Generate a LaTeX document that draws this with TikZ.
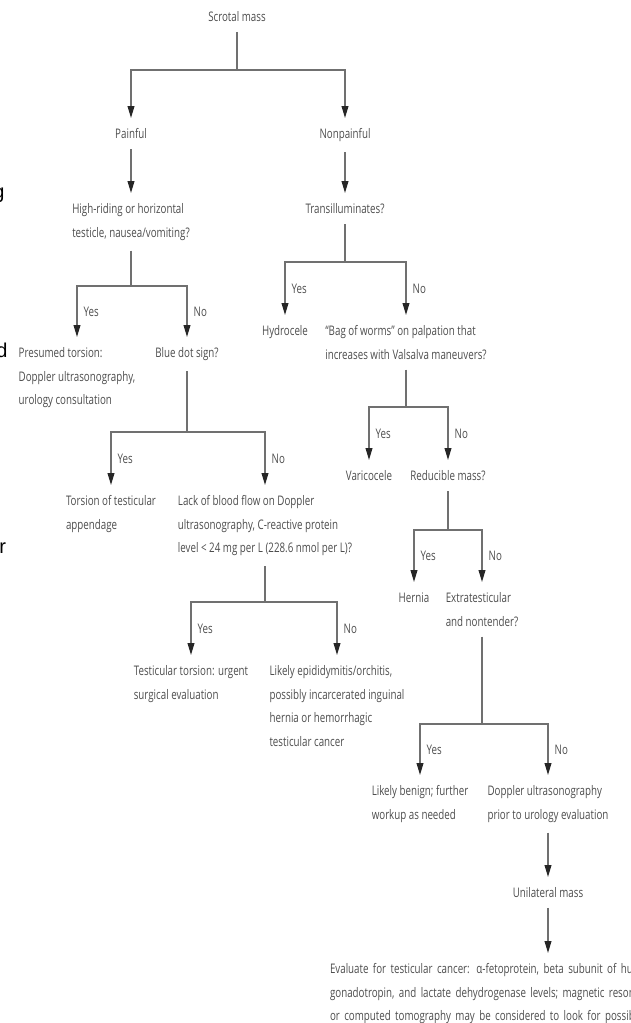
\documentclass[tikz,border=0pt]{standalone}
\usepackage{fontspec}
\setmainfont{Open Sans}[FakeStretch=0.74]
\newfontfamily\cutfont{Liberation Sans}
\usetikzlibrary{arrows.meta}
\definecolor{txtgray}{HTML}{4D4D4D}
\definecolor{linegray}{HTML}{707070}

\begin{document}
\begin{tikzpicture}[x=0.5pt,y=-0.5pt,
  box/.style={anchor=north,align=left,inner xsep=0pt,inner ysep=5pt,text=txtgray,font=\fontsize{6.6pt}{11.8pt}\selectfont},
  ln/.style={draw=linegray,line width=0.65pt},
  arr/.style={ln,-{Triangle[length=6pt,width=3.4pt,color=black!85]}},
  lbl/.style={pos=0.75,anchor=west,inner sep=0pt,xshift=3pt,text=txtgray,font=\fontsize{6.6pt}{8pt}\selectfont},
  cut/.style={anchor=base east,inner sep=0pt,font=\cutfont\fontsize{10pt}{12pt}\selectfont}]
  \useasboundingbox (0,0) rectangle (631,1023);
  \clip (0,0) rectangle (631,1023);

  % letters of the next page, cut at the margin
  \node[cut] (cutg) at (5,198) {g};
  \node[cut] (cutd) at (8,357) {d};
  \node[cut,anchor=base west] (cutr) at (-1,553) {r};

  % questions and outcomes
  \node[box] (scrotal) at (237,1) {Scrotal mass};
  \node[box] (painful) at (131,118) {Painful};
  \node[box] (nonpain) at (345,118) {Nonpainful};
  \node[box] (highriding) at (131,193) {High-riding or horizontal\\testicle, nausea/vomiting?};
  \node[box] (transil) at (345,193) {Transilluminates?};
  \node[box] (presumed) at (77,337) {Presumed torsion:\\Doppler ultrasonography,\\urology consultation};
  \node[box] (bluedot) at (187,337) {Blue dot sign?};
  \node[box] (hydrocele) at (285,315) {Hydrocele};
  \node[box] (bag) at (406,315) {“Bag of worms” on palpation that\\increases with Valsalva maneuvers?};
  \node[box] (torsapp) at (111,485) {Torsion of testicular\\appendage};
  \node[box] (lack) at (265,485) {Lack of blood flow on Doppler\\ultrasonography, C-reactive protein\\level < 24 mg per L (228.6 nmol per L)?};
  \node[box] (varicocele) at (369,460) {Varicocele};
  \node[box] (reducible) at (448,460) {Reducible mass?};
  \node[box] (hernia) at (414,582) {Hernia};
  \node[box] (extrat) at (482,582) {Extratesticular\\and nontender?};
  \node[box] (testtors) at (191,655) {Testicular torsion: urgent\\surgical evaluation};
  \node[box] (likelyepid) at (337,655) {Likely epididymitis/orchitis,\\possibly incarcerated inguinal\\hernia or hemorrhagic\\testicular cancer};
  \node[box] (benign) at (420,775) {Likely benign; further\\workup as needed};
  \node[box] (doppler) at (548,775) {Doppler ultrasonography\\prior to urology evaluation};
  \node[box] (unilat) at (548,877) {Unilateral mass};
  \node[box,text width=218pt] (evaluate) at (548,953) {Evaluate for testicular cancer: α-fetoprotein, beta subunit of human chorionic\\gonadotropin, and lactate dehydrogenase levels; magnetic resonance imaging\\or computed tomography may be considered to look for possible metastases};

  % branch points
  \coordinate (j1) at (237,70);
  \coordinate (j2) at (131,286);
  \coordinate (j3) at (345,262);
  \coordinate (j4) at (187,432);
  \coordinate (j5) at (406,407);
  \coordinate (j6) at (448,530);
  \coordinate (j7) at (265,602);
  \coordinate (j8) at (482,724);

  \draw[ln] (scrotal.south) -- (j1);
  \draw[arr] (j1) -| (painful.north);
  \draw[arr] (j1) -| (nonpain.north);
  \draw[arr] (painful.south) -- (highriding.north);
  \draw[arr] (nonpain.south) -- (transil.north);

  \draw[ln] (highriding.south) -- (j2);
  \draw[arr] (j2) -| node[lbl] (yes2) {Yes} (presumed.north);
  \draw[arr] (j2) -| node[lbl] (no2) {No} (bluedot.north);

  \draw[ln] (transil.south) -- (j3);
  \draw[arr] (j3) -| node[lbl] (yes3) {Yes} (hydrocele.north);
  \draw[arr] (j3) -| node[lbl] (no3) {No} (bag.north);

  \draw[ln] (bluedot.south) -- (j4);
  \draw[arr] (j4) -| node[lbl] (yes4) {Yes} (torsapp.north);
  \draw[arr] (j4) -| node[lbl] (no4) {No} (lack.north);

  \draw[ln] (bag.south) -- (j5);
  \draw[arr] (j5) -| node[lbl] (yes5) {Yes} (varicocele.north);
  \draw[arr] (j5) -| node[lbl] (no5) {No} (reducible.north);

  \draw[ln] (reducible.south) -- (j6);
  \draw[arr] (j6) -| node[lbl] (yes6) {Yes} (hernia.north);
  \draw[arr] (j6) -| node[lbl] (no6) {No} (extrat.north);

  \draw[ln] (lack.south) -- (j7);
  \draw[arr] (j7) -| node[lbl] (yes7) {Yes} (testtors.north);
  \draw[arr] (j7) -| node[lbl] (no7) {No} (likelyepid.north);

  \draw[ln] (extrat.south) -- (j8);
  \draw[arr] (j8) -| node[lbl] (yes8) {Yes} (benign.north);
  \draw[arr] (j8) -| node[lbl] (no8) {No} (doppler.north);

  \draw[arr] (doppler.south) -- (unilat.north);
  \draw[arr] (unilat.south) -- (evaluate.north);
\end{tikzpicture}
\end{document}
